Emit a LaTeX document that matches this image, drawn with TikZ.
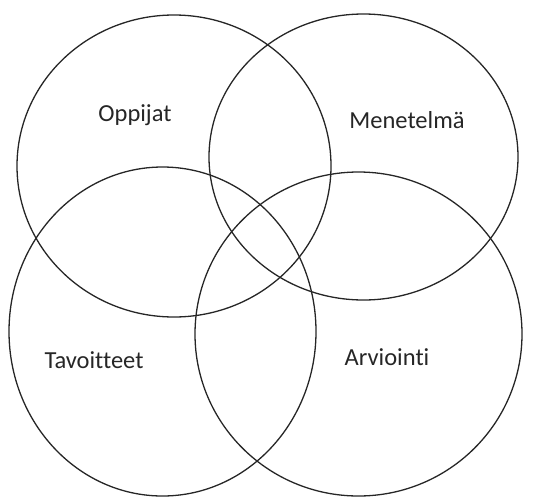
\documentclass[tikz,border=0pt]{standalone}
\usepackage{fontspec}
\setmainfont{Carlito}[Ligatures={NoCommon}]
\usepackage{tikz}

\begin{document}
\begin{tikzpicture}[x=1pt,y=-1pt,line width=1.3pt,
  ring/.style={draw=black!85},
  lbl/.style={font=\fontsize{24.5}{29}\selectfont,text=black!85}]
\useasboundingbox (0,0) rectangle (540,498);
\draw[ring] (174,166) ellipse[x radius=157,y radius=151];
\draw[ring] (363.5,157) ellipse[x radius=154.5,y radius=143];
\draw[ring] (162.5,331.5) ellipse[x radius=153.5,y radius=164.5];
\draw[ring] (358.5,334) ellipse[x radius=163.5,y radius=162];
\node[lbl] (oppijat) at (135,115) {Oppijat};\node[lbl] (menetelma) at (407,120) {Menetelmä};
\node[lbl] (tavoitteet) at (94,360) {Tavoitteet};\node[lbl] (arviointi) at (387,357) {Arviointi};
\end{tikzpicture}
\end{document}
